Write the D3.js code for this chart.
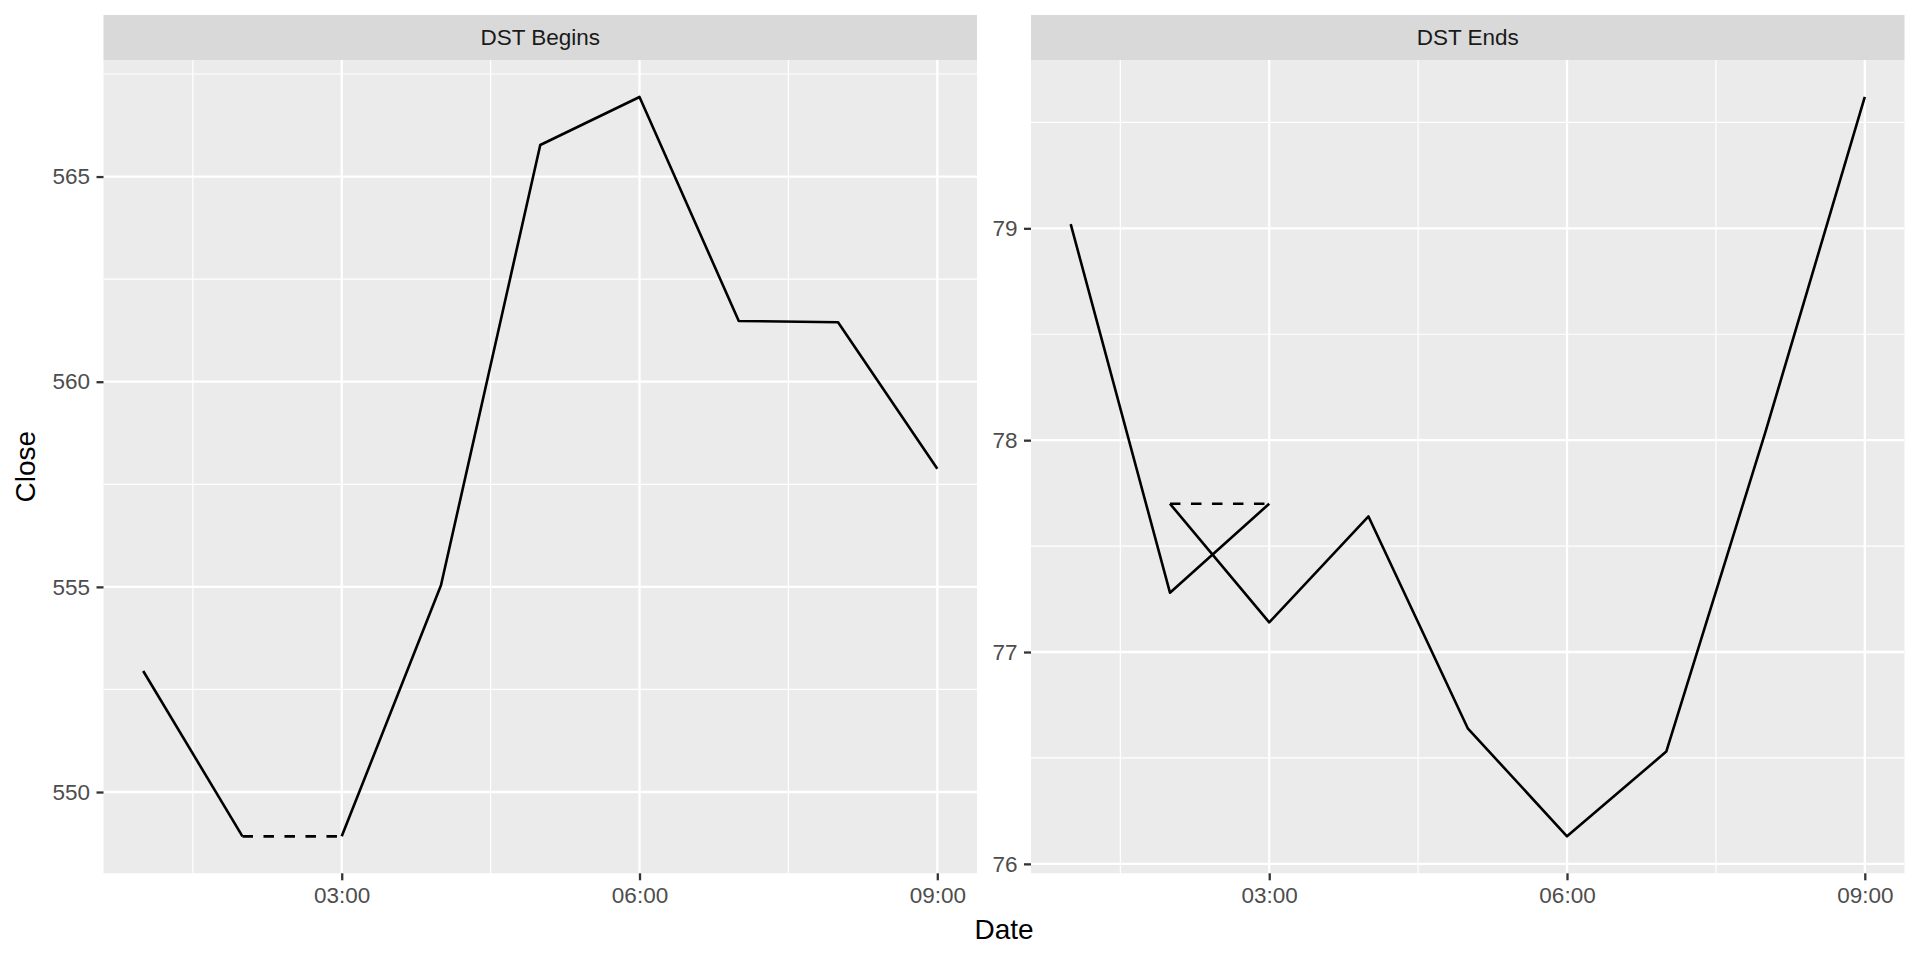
<!DOCTYPE html>
<html>
<head>
<meta charset="utf-8">
<script src="https://cdn.jsdelivr.net/npm/d3@7"></script>
<style>
  html, body { margin: 0; padding: 0; background: #ffffff; }
  svg { display: block; font-family: "Liberation Sans", Arial, Helvetica, sans-serif; }
</style>
</head>
<body>
<svg id="chart" width="1920" height="960"></svg>
<script>
// ---- data (hour of day, closing price) ----
const panelTitles = ["DST Begins", "DST Ends"];
const xTickLabels = ["03:00", "06:00", "09:00"];
const xTickHours = [3, 6, 9];
const xMinorHours = [1.5, 4.5, 7.5];

// DST Begins
const beginsSolidAHours = [1, 2];
const beginsSolidAValues = [552.95, 548.92];
const beginsDashHours = [2, 3];
const beginsDashValues = [548.92, 548.92];
const beginsSolidBHours = [3, 4, 5, 6, 7, 8, 9];
const beginsSolidBValues = [548.92, 555.04, 565.77, 566.94, 561.48, 561.45, 557.88];
const beginsYTicks = [550, 555, 560, 565];

// DST Ends
const endsSolidAHours = [1, 2, 3];
const endsSolidAValues = [79.02, 77.28, 77.70];
const endsDashHours = [2, 3];
const endsDashValues = [77.70, 77.70];
const endsSolidBHours = [2, 3, 4, 5, 6, 7, 8, 9];
const endsSolidBValues = [77.70, 77.14, 77.64, 76.64, 76.13, 76.53, 78.04, 79.62];
const endsYTicks = [76, 77, 78, 79];

// ---- helpers ----
const hourDate = h => new Date(Date.UTC(2014, 0, 1, 0, 0) + h * 3600000);
const zip = (hs, vs) => hs.map((h, i) => ({ t: hourDate(h), v: vs[i] }));

const panels = [
  {
    title: panelTitles[0],
    solid: [zip(beginsSolidAHours, beginsSolidAValues), zip(beginsSolidBHours, beginsSolidBValues)],
    dashed: [zip(beginsDashHours, beginsDashValues)],
    yTicks: beginsYTicks,
    left: 103.5
  },
  {
    title: panelTitles[1],
    solid: [zip(endsSolidAHours, endsSolidAValues), zip(endsSolidBHours, endsSolidBValues)],
    dashed: [zip(endsDashHours, endsDashValues)],
    yTicks: endsYTicks,
    left: 1031
  }
];

// ---- layout ----
const panelW = 873.5;
const stripTop = 15, stripBottom = 60;
const panelTop = 60, panelBottom = 873.3;

const svg = d3.select("#chart");

// shared x domain with 5% expansion
const allHours = [].concat(beginsSolidAHours, beginsSolidBHours, endsSolidAHours, endsSolidBHours);
const hMin = d3.min(allHours), hMax = d3.max(allHours);
const hPad = (hMax - hMin) * 0.05;
const xDomain = [hourDate(hMin - hPad), hourDate(hMax + hPad)];

panels.forEach(p => {
  const x = d3.scaleUtc().domain(xDomain).range([p.left, p.left + panelW]);
  const allV = [].concat(...p.solid.map(s => s.map(d => d.v)), ...p.dashed.map(s => s.map(d => d.v)));
  const vMin = d3.min(allV), vMax = d3.max(allV);
  const vPad = (vMax - vMin) * 0.05;
  const y = d3.scaleLinear().domain([vMin - vPad, vMax + vPad]).range([panelBottom, panelTop]);

  // strip
  svg.append("rect")
    .attr("x", p.left).attr("y", stripTop)
    .attr("width", panelW).attr("height", stripBottom - stripTop)
    .attr("fill", "#d9d9d9");
  svg.append("text")
    .attr("x", p.left + panelW / 2).attr("y", (stripTop + stripBottom) / 2)
    .attr("dy", "0.35em")
    .attr("text-anchor", "middle")
    .attr("font-size", 22.5)
    .attr("fill", "#1a1a1a")
    .text(p.title);

  // panel background
  svg.append("rect")
    .attr("x", p.left).attr("y", panelTop)
    .attr("width", panelW).attr("height", panelBottom - panelTop)
    .attr("fill", "#ebebeb");

  const g = svg.append("g");

  // minor grid
  const yStep = p.yTicks[1] - p.yTicks[0];
  const yMinor = [];
  for (let k = -1; k < p.yTicks.length; k++) {
    const val = p.yTicks[0] + (k + 0.5) * yStep;
    if (val >= y.domain()[0] && val <= y.domain()[1]) yMinor.push(val);
  }
  g.selectAll(".ymin").data(yMinor).enter().append("line")
    .attr("x1", p.left).attr("x2", p.left + panelW)
    .attr("y1", d => y(d)).attr("y2", d => y(d))
    .attr("stroke", "#ffffff").attr("stroke-width", 1.2);
  g.selectAll(".xmin").data(xMinorHours.map(hourDate)).enter().append("line")
    .attr("x1", d => x(d)).attr("x2", d => x(d))
    .attr("y1", panelTop).attr("y2", panelBottom)
    .attr("stroke", "#ffffff").attr("stroke-width", 1.2);

  // major grid
  g.selectAll(".ymaj").data(p.yTicks).enter().append("line")
    .attr("x1", p.left).attr("x2", p.left + panelW)
    .attr("y1", d => y(d)).attr("y2", d => y(d))
    .attr("stroke", "#ffffff").attr("stroke-width", 2.3);
  g.selectAll(".xmaj").data(xTickHours.map(hourDate)).enter().append("line")
    .attr("x1", d => x(d)).attr("x2", d => x(d))
    .attr("y1", panelTop).attr("y2", panelBottom)
    .attr("stroke", "#ffffff").attr("stroke-width", 2.3);

  // lines
  const line = d3.line().x(d => x(d.t)).y(d => y(d.v));
  p.solid.forEach(s => {
    g.append("path").attr("d", line(s))
      .attr("fill", "none").attr("stroke", "#000000")
      .attr("stroke-width", 2.6).attr("stroke-linejoin", "round").attr("stroke-linecap", "butt");
  });
  p.dashed.forEach(s => {
    g.append("path").attr("d", line(s))
      .attr("fill", "none").attr("stroke", "#000000")
      .attr("stroke-width", 2.6).attr("stroke-dasharray", "10.5,10.5")
      .attr("stroke-linecap", "butt");
  });

  // y axis
  const yAxis = d3.axisLeft(y).tickValues(p.yTicks).tickSize(7).tickPadding(6.5).tickFormat(d3.format("d"));
  const ya = svg.append("g").attr("transform", `translate(${p.left},0)`).call(yAxis);
  ya.select(".domain").remove();
  ya.selectAll(".tick line").attr("stroke", "#333333").attr("stroke-width", 2.3);
  ya.selectAll(".tick text").attr("fill", "#4d4d4d").attr("font-size", 22.5)
    .attr("font-family", "Liberation Sans, Arial, sans-serif");

  // x axis
  const xAxis = d3.axisBottom(x).tickValues(xTickHours.map(hourDate)).tickSize(7).tickPadding(6.5)
    .tickFormat((d, i) => xTickLabels[i]);
  const xa = svg.append("g").attr("transform", `translate(0,${panelBottom})`).call(xAxis);
  xa.select(".domain").remove();
  xa.selectAll(".tick line").attr("stroke", "#333333").attr("stroke-width", 2.3);
  xa.selectAll(".tick text").attr("fill", "#4d4d4d").attr("font-size", 22.5)
    .attr("font-family", "Liberation Sans, Arial, sans-serif");
});

// axis titles
svg.append("text")
  .attr("x", (panels[0].left + panels[1].left + panelW) / 2)
  .attr("y", 938.5)
  .attr("text-anchor", "middle")
  .attr("font-size", 28)
  .attr("fill", "#000000")
  .text("Date");

svg.append("text")
  .attr("transform", `translate(35,${(panelTop + panelBottom) / 2}) rotate(-90)`)
  .attr("text-anchor", "middle")
  .attr("font-size", 28)
  .attr("fill", "#000000")
  .text("Close");
</script>
</body>
</html>
